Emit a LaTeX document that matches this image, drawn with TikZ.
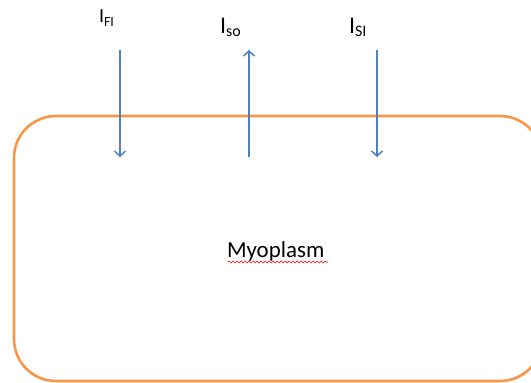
\documentclass[tikz,border=0pt]{standalone}
\usepackage{fontspec}
\setmainfont{Carlito}
\usetikzlibrary{arrows.meta,decorations.pathmorphing}
\definecolor{cellorange}{RGB}{247,150,70}
\definecolor{fluxblue}{RGB}{79,129,189}
\tikzset{
  cellwall/.style={draw=cellorange, line width=2.6bp, rounded corners=42bp},
  flux/.style={draw=fluxblue, line width=1.5bp,
    -{Straight Barb[length=5bp,width=11bp,line width=1.5bp]}},
  lbl/.style={inner sep=0pt, outer sep=0pt, anchor=base west},
  squiggle/.style={draw=red, line width=0.6bp,
    decorate, decoration={snake, amplitude=1bp, segment length=4bp}}
}
\begin{document}
\begin{tikzpicture}[x=1bp, y=-1bp]
  \useasboundingbox (0,0) rectangle (531,382);
  \clip (0,0) rectangle (531,382);
  % the cell membrane
  \draw[cellwall] (14,116) rectangle (542,381);
  % current labels
  \node[lbl] (ifi) at (99,22.5) {\fontsize{20}{20}\selectfont I\raisebox{-4bp}{\fontsize{14}{14}\selectfont FI}};
  \node[lbl] (iso) at (220,33) {\fontsize{24}{24}\selectfont I\raisebox{-3bp}{\fontsize{16}{16}\selectfont so}};
  \node[lbl] (isi) at (349,33) {\fontsize{24}{24}\selectfont I\raisebox{-3bp}{\fontsize{16}{16}\selectfont SI}};
  % arrow end points
  \coordinate (fi-a) at (120,50);
  \coordinate (fi-b) at (120,157);
  \coordinate (so-a) at (249,157);
  \coordinate (so-b) at (249,50);
  \coordinate (si-a) at (377,50);
  \coordinate (si-b) at (377,157);
  \draw[flux] (fi-a) -- (fi-b);
  \draw[flux] (so-a) -- (so-b);
  \draw[flux] (si-a) -- (si-b);
  % compartment label
  \node[lbl] (myo) at (227,257) {\fontsize{23}{23}\selectfont Myoplasm};
  \coordinate (sq-a) at (228,262);
  \coordinate (sq-b) at (328,262);
  \draw[squiggle] (sq-a) -- (sq-b);
\end{tikzpicture}
\end{document}
